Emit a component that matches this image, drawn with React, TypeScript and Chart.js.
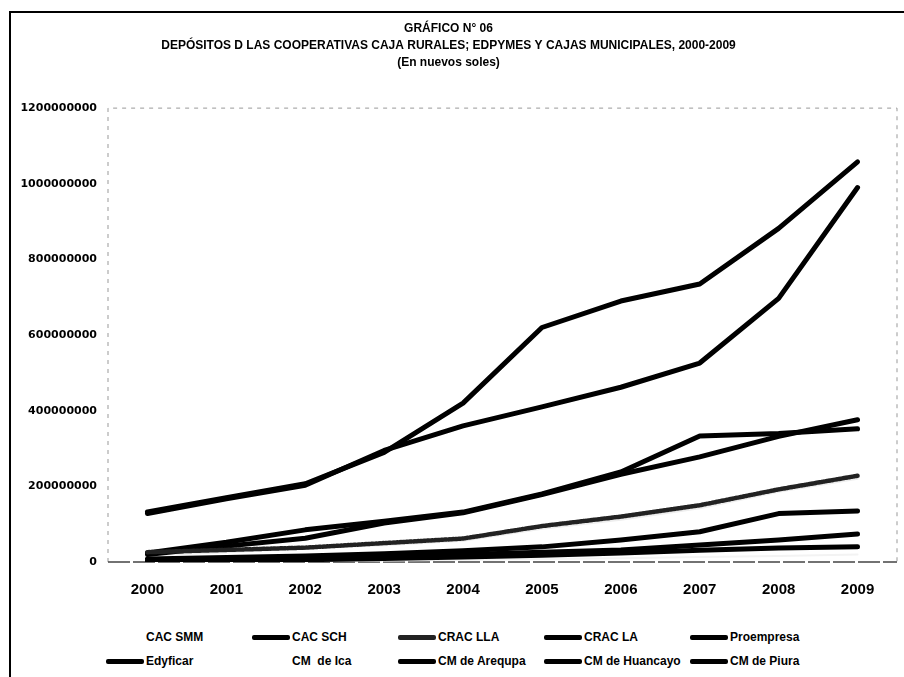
import React, { useEffect, useRef } from "react";
import { Chart, registerables } from "chart.js";

Chart.register(...registerables);

const years = ["2000", "2001", "2002", "2003", "2004", "2005", "2006", "2007", "2008", "2009"];

const cacSmm = [1000000, 2000000, 3000000, 4000000, 6000000, 8000000, 10000000, 13000000, 16000000, 20000000];
const cacSch = [8000000, 12000000, 16000000, 22000000, 30000000, 40000000, 58000000, 80000000, 128000000, 135000000];
const cracLla = [26000000, 32000000, 38000000, 50000000, 62000000, 95000000, 120000000, 150000000, 192000000, 228000000];
const cracLa = [4000000, 7000000, 10000000, 14000000, 20000000, 26000000, 32000000, 45000000, 58000000, 74000000];
const proempresa = [2000000, 4000000, 6000000, 9000000, 13000000, 18000000, 24000000, 31000000, 37000000, 40000000];
const edyficar = [24000000, 52000000, 85000000, 108000000, 132000000, 180000000, 238000000, 333000000, 340000000, 352000000];
const cmIca = [18000000, 26000000, 36000000, 44000000, 56000000, 88000000, 112000000, 142000000, 186000000, 220000000];
const cmArequipa = [132000000, 170000000, 207000000, 290000000, 420000000, 620000000, 690000000, 735000000, 882000000, 1058000000];
const cmHuancayo = [20000000, 42000000, 63000000, 103000000, 130000000, 178000000, 232000000, 278000000, 332000000, 376000000];
const cmPiura = [128000000, 167000000, 203000000, 295000000, 360000000, 410000000, 462000000, 526000000, 697000000, 990000000];

const seriesNames = [
  "CAC SMM", "CAC SCH", "CRAC LLA", "CRAC LA", "Proempresa",
  "Edyficar", "CM  de Ica", "CM de Arequpa", "CM de Huancayo", "CM de Piura",
];

const yTicks = [0, 200000000, 400000000, 600000000, 800000000, 1000000000, 1200000000];

const titleLines = [
  "GRÁFICO N° 06",
  "DEPÓSITOS D LAS COOPERATIVAS CAJA RURALES; EDPYMES Y CAJAS MUNICIPALES, 2000-2009",
  "(En nuevos soles)",
];

const FONT = "'Liberation Sans', Arial, sans-serif";

// legend columns (line-sample left edges), five per row
const legendColumns = [106, 252, 398, 544, 690];

const areaPlugin = {
  id: "areaFrame",
  beforeDraw(chart: any) {
    const { ctx, width, height } = chart;
    ctx.save();
    ctx.fillStyle = "#ffffff";
    ctx.fillRect(0, 0, width, height);
    ctx.restore();
  },
  beforeDatasetsDraw(chart: any) {
    const { ctx, chartArea } = chart;
    const { left, right, top, bottom } = chartArea;
    ctx.save();
    ctx.strokeStyle = "#999999";
    ctx.lineWidth = 1;
    ctx.setLineDash([4, 5]);
    ctx.beginPath();
    ctx.moveTo(left, bottom);
    ctx.lineTo(left, top);
    ctx.lineTo(right, top);
    ctx.lineTo(right, bottom);
    ctx.stroke();
    ctx.strokeStyle = "#444444";
    ctx.lineWidth = 1.5;
    ctx.setLineDash([22, 3]);
    ctx.beginPath();
    ctx.moveTo(left, bottom);
    ctx.lineTo(right, bottom);
    ctx.stroke();
    ctx.restore();
  },
};

const seriesData = [cacSmm, cacSch, cracLla, cracLa, proempresa, edyficar, cmIca, cmArequipa, cmHuancayo, cmPiura];
const seriesColor = ["#f3f3f3", "#000000", "#222222", "#000000", "#000000", "#000000", "#eeeeee", "#000000", "#000000", "#000000"];
const seriesFaint = [true, false, false, false, false, false, true, false, false, false];

function makeDatasets() {
  return seriesNames.map((name, i) => ({
    label: name,
    data: seriesData[i],
    borderColor: seriesColor[i],
    backgroundColor: seriesColor[i],
    borderWidth: seriesFaint[i] ? 2 : i === 2 ? 4.5 : 5,
    borderDash: i === 2 ? [2, 1.5] : [],
    order: seriesFaint[i] ? 1 : 0,
    pointRadius: 0,
    tension: 0,
    borderCapStyle: "round",
    borderJoinStyle: "round",
    fill: false,
  }));
}

export default function App() {
  const ref = useRef<HTMLCanvasElement>(null);

  useEffect(() => {
    if (!ref.current) return;
    const chart = new Chart(ref.current, {
      type: "line",
      data: { labels: years, datasets: makeDatasets() as any },
      plugins: [areaPlugin],
      options: {
        responsive: false,
        animation: false,
        devicePixelRatio: 1,
        layout: { padding: { left: 0, right: 7, top: 0, bottom: 0 } },
        plugins: {
          title: {
            display: true,
            text: titleLines,
            color: "#000000",
            font: { family: FONT, size: 12, weight: "bold", lineHeight: 1.42 },
            padding: { top: 20, bottom: 37 },
          },
          legend: { display: false },
          tooltip: { enabled: false },
        },
        scales: {
          x: {
            type: "category",
            offset: true,
            grid: { display: false, drawTicks: false },
            border: { display: false },
            ticks: {
              color: "#000000",
              font: { family: FONT, size: 15, weight: "bold" },
              padding: 19,
              maxRotation: 0,
            },
            afterFit: (scale: any) => {
              scale.height = 57;
            },
          },
          y: {
            min: 0,
            max: 1200000000,
            grid: { display: false, drawTicks: false },
            border: { display: false },
            afterBuildTicks: (scale: any) => {
              scale.ticks = yTicks.map((v) => ({ value: v }));
            },
            ticks: {
              color: "#000000",
              font: { family: "'DejaVu Sans', sans-serif", size: 11, weight: "bold" },
              padding: 11,
              callback: (v: any) => String(v),
            },
            afterFit: (scale: any) => {
              scale.width = 108;
            },
          },
        },
      } as any,
    });
    return () => chart.destroy();
  }, []);

  return (
    <div style={{ position: "fixed", left: 0, top: 0, width: 904, height: 677, background: "#fff", overflow: "hidden" }}>
      <canvas ref={ref} width={904} height={619} style={{ display: "block", position: "absolute", left: 0, top: 0 }} />
      <div style={{ position: "absolute", left: 0, top: 619, width: 904, height: 58 }}>
        {seriesNames.map((name, i) => {
          const row = Math.floor(i / 5);
          return (
            <div
              key={name}
              style={{
                position: "absolute",
                left: legendColumns[i % 5],
                top: row === 0 ? 10 : 34,
                height: 16,
                display: "flex",
                alignItems: "center",
                whiteSpace: "pre",
                fontFamily: FONT,
                fontWeight: "bold",
                fontSize: 12,
                color: "#000",
              }}
            >
              <span
                style={{
                  display: "inline-block",
                  width: 38,
                  height: 5,
                  borderRadius: 2,
                  background: seriesFaint[i] ? "transparent" : seriesColor[i],
                  marginRight: 2,
                }}
              />
              <span>{name}</span>
            </div>
          );
        })}
      </div>
      <div
        style={{
          position: "absolute",
          left: 9,
          top: 11,
          width: 904,
          height: 677,
          borderLeft: "2px solid #000",
          borderTop: "2px solid #000",
          pointerEvents: "none",
        }}
      />
    </div>
  );
}
